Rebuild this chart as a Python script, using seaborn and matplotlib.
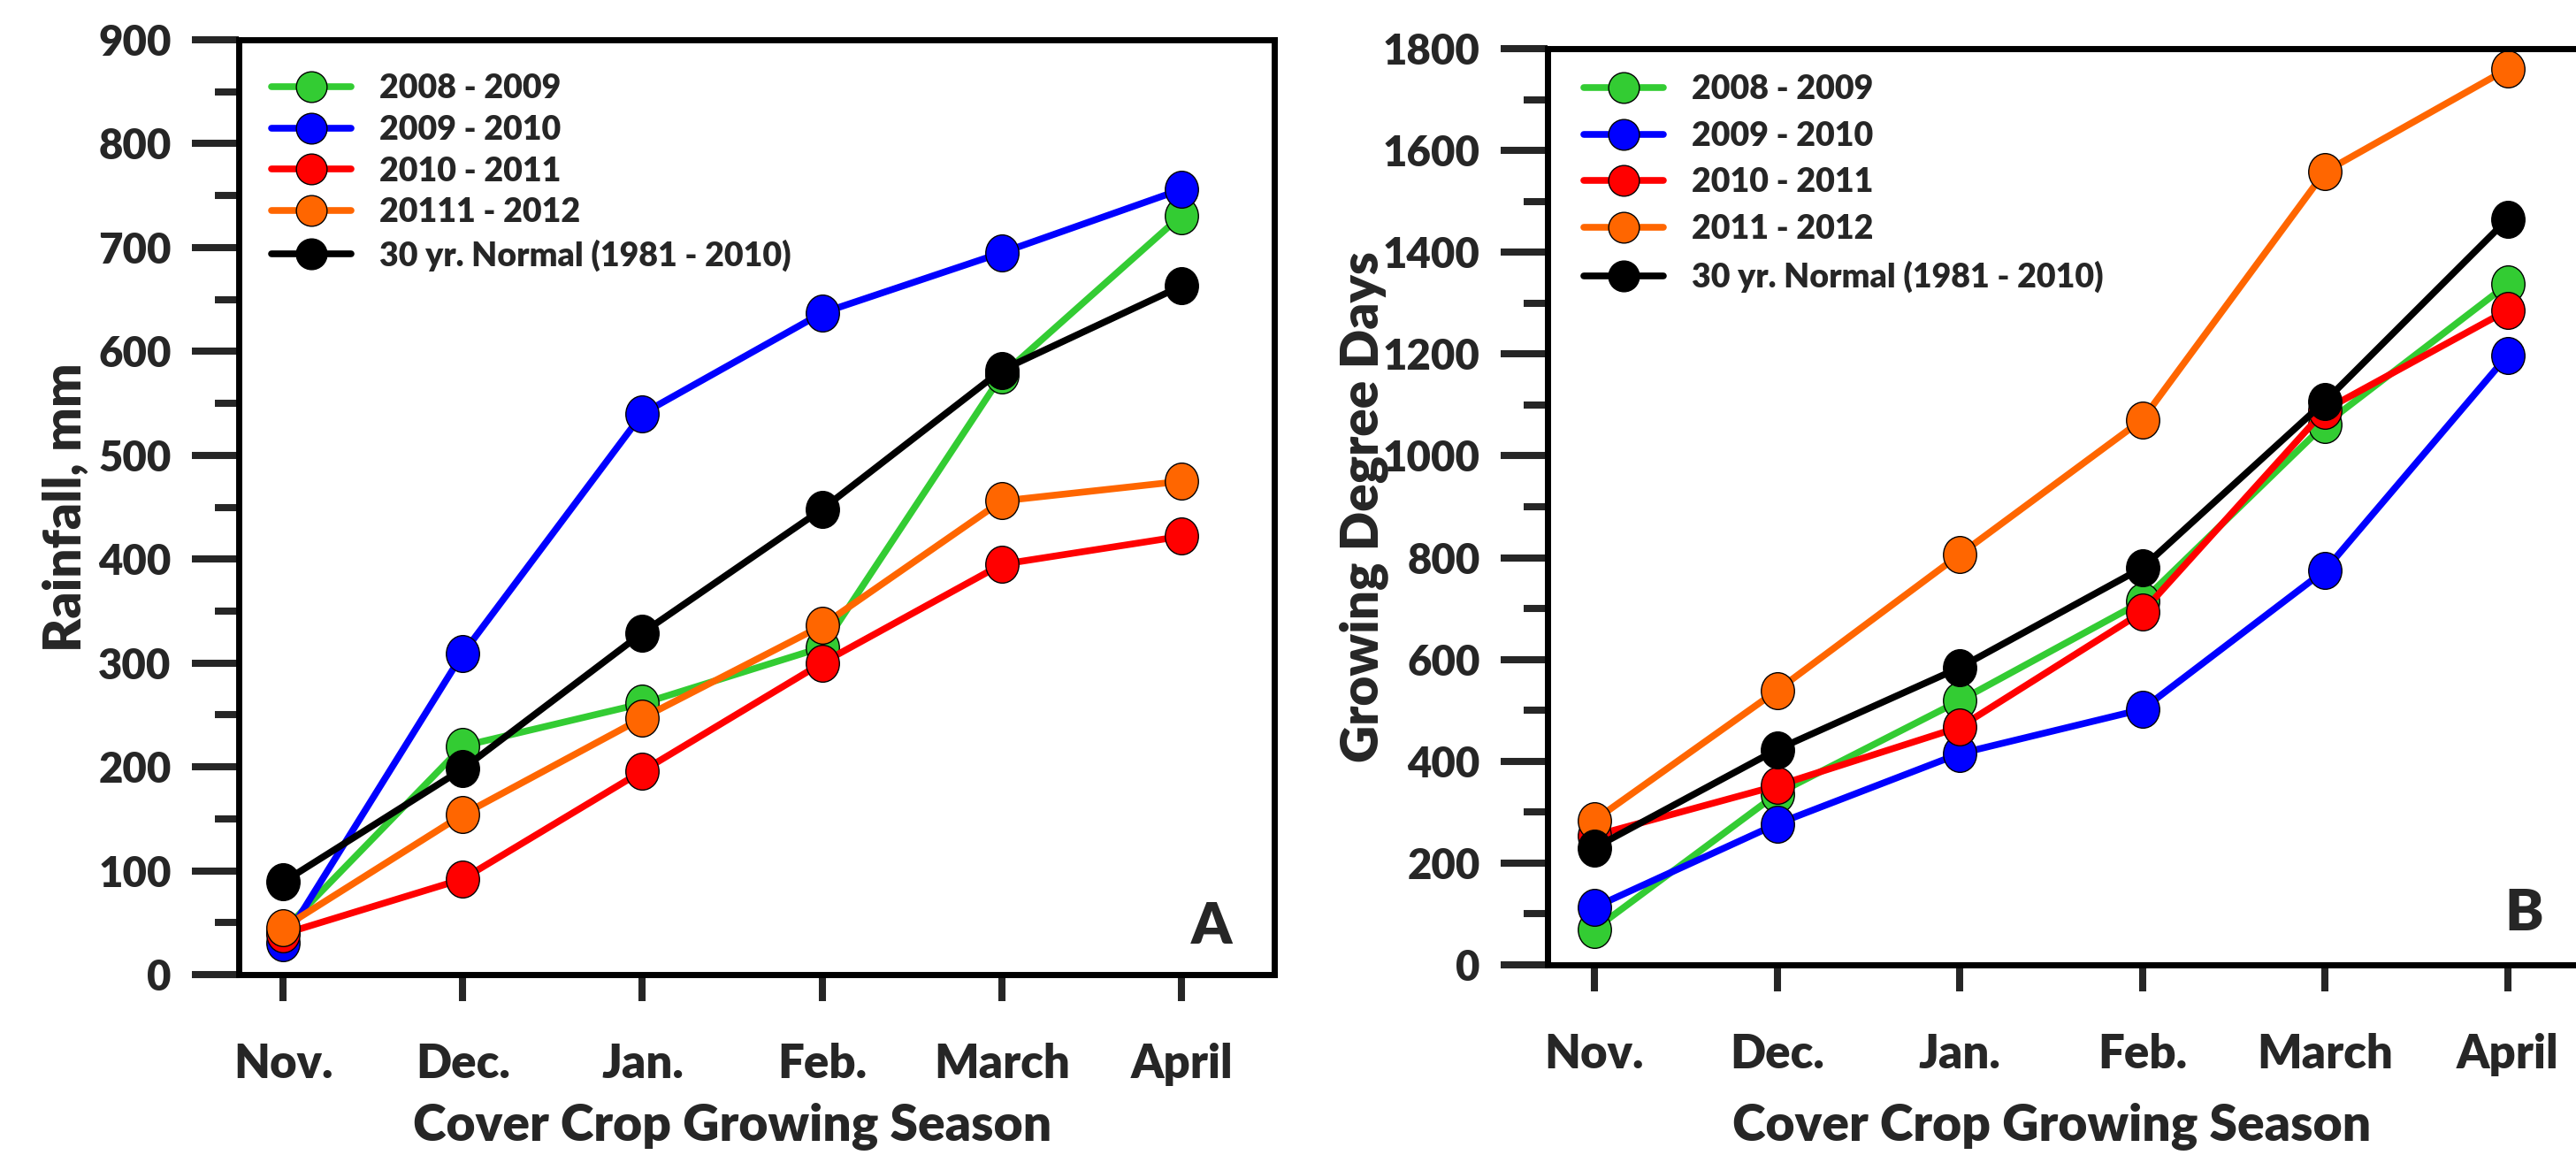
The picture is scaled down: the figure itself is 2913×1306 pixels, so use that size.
import pandas as pd
import matplotlib.pyplot as plt
import seaborn as sns
from matplotlib.lines import Line2D
from matplotlib.path import Path
from matplotlib.transforms import Affine2D
from matplotlib.ticker import MultipleLocator

# data
months = ['Nov.', 'Dec.', 'Jan.', 'Feb.', 'March', 'April']

rain_labels = ['2008 - 2009', '2009 - 2010', '2010 - 2011', '20111 - 2012', '30 yr. Normal (1981 - 2010)']
rain_0809 = [42, 220, 261, 315, 577, 731]
rain_0910 = [31, 309, 540, 637, 695, 756]
rain_1011 = [39, 92, 196, 300, 395, 422]
rain_1112 = [45, 154, 247, 336, 456, 475]
rain_normal = [89, 198, 329, 448, 582, 663]

gdd_labels = ['2008 - 2009', '2009 - 2010', '2010 - 2011', '2011 - 2012', '30 yr. Normal (1981 - 2010)']
gdd_0809 = [70, 336, 519, 714, 1062, 1337]
gdd_0910 = [113, 277, 415, 502, 775, 1197]
gdd_1011 = [254, 352, 467, 693, 1090, 1286]
gdd_1112 = [284, 539, 806, 1071, 1558, 1760]
gdd_normal = [230, 423, 584, 780, 1107, 1465]

colors = ['#33cc33', '#0000ff', '#ff0000', '#ff6600', '#000000']
W = 'heavy'


def long_form(labels, series):
    rows = []
    for lab, vals in zip(labels, series):
        for m, v in zip(months, vals):
            rows.append({'Month': m, 'Season': lab, 'Value': v})
    return pd.DataFrame(rows)


rain = long_form(rain_labels, [rain_0809, rain_0910, rain_1011, rain_1112, rain_normal])
gdd = long_form(gdd_labels, [gdd_0809, gdd_0910, gdd_1011, gdd_1112, gdd_normal])

sns.set_style('ticks')
plt.rcParams['font.family'] = ['Lato', 'DejaVu Sans']
plt.rcParams['font.weight'] = W
plt.rcParams['axes.labelweight'] = W

fig = plt.figure(figsize=(29.13, 13.06), dpi=100)
ax1 = fig.add_axes([0.0927, 0.1562, 0.4020, 0.8093])
ax2 = fig.add_axes([0.6008, 0.1646, 0.4116, 0.7933])

# slightly tall ellipse marker like the original
ell = Path.unit_circle().transformed(Affine2D().scale(0.9, 1.0))


def panel(ax, df, labels, ylabel, ymax, ymajor, yminor, xlim, letter, letter_xy,
          leg_anchor, leg_space):
    sns.lineplot(data=df, x='Month', y='Value', hue='Season', hue_order=labels,
                 palette=dict(zip(labels, colors)), sort=False, ax=ax, legend=False,
                 linewidth=5.5, marker=ell, markersize=30,
                 markeredgecolor='black', markeredgewidth=1)
    ax.set_ylim(0, ymax)
    ax.set_xlim(*xlim)
    ax.yaxis.set_major_locator(MultipleLocator(ymajor))
    ax.yaxis.set_minor_locator(MultipleLocator(yminor))
    for s in ax.spines.values():
        s.set_linewidth(5)
        s.set_color('black')
    ax.tick_params(axis='y', which='major', length=38, width=5.8, labelsize=34, pad=17)
    ax.tick_params(axis='y', which='minor', length=19.5, width=5.8)
    ax.tick_params(axis='x', which='major', length=21.6, width=5.8, labelsize=38, pad=34)
    ax.set_xlabel('Cover Crop Growing Season', fontsize=41, fontweight=W)
    ax.set_ylabel(ylabel, fontsize=42, fontweight=W)
    ax.text(letter_xy[0], letter_xy[1], letter, transform=ax.transAxes,
            ha='right', va='bottom', fontsize=47, fontweight=W)

    handles = [Line2D([0], [0], color=c, lw=5.5, marker='o', markersize=25,
                      markerfacecolor=c, markeredgecolor='black', markeredgewidth=1)
               for c in colors]
    ax.legend(handles, labels, loc='upper left', bbox_to_anchor=leg_anchor,
              frameon=False, handlelength=2.4, handletextpad=0.85,
              labelspacing=leg_space, borderpad=0, borderaxespad=0,
              prop={'weight': W, 'size': 27})


panel(ax1, rain, rain_labels, 'Rainfall, mm', 900, 100, 50, (-0.246, 5.517),
      'A', (0.959, 0.023), (0.0316, 0.964), 0.34)
panel(ax2, gdd, gdd_labels, 'Growing Degree Days', 1800, 200, 100, (-0.256, 5.55),
      'B', (0.939, 0.027), (0.0342, 0.972), 0.50)

ax1.xaxis.set_label_coords(0.4765, -0.137)
ax2.xaxis.set_label_coords(0.475, -0.151)
ax1.yaxis.set_label_coords(-0.145, 0.5)
ax2.yaxis.set_label_coords(-0.150, 0.5)

plt.savefig('out.png', dpi=100)
